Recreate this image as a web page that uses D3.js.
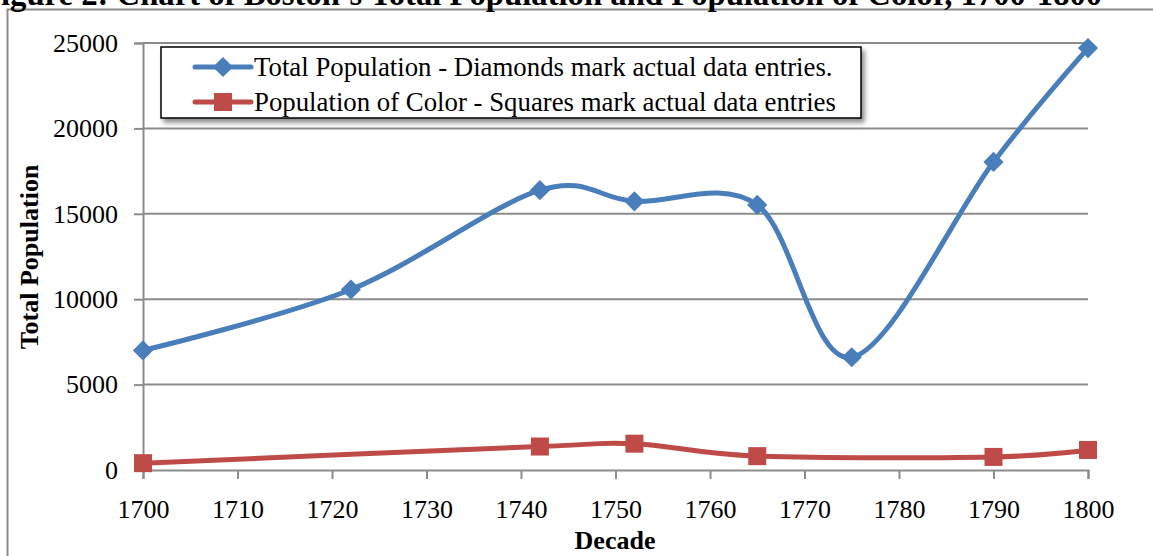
<!DOCTYPE html>
<html>
<head>
<meta charset="utf-8">
<script src="https://cdn.jsdelivr.net/npm/d3@7"></script>
<style>
  body { margin: 0; background: #fff; }
  svg { display: block; font-family: "Liberation Serif", "Times New Roman", serif; }
</style>
</head>
<body>
<svg id="chart" width="1153" height="556"></svg>
<script>
(function() {
"use strict";

var totalYears = [1700, 1722, 1742, 1752, 1765, 1775, 1790, 1800];
var totalPop   = [7000, 10567, 16382, 15731, 15520, 6600, 18038, 24700];
var colorYears = [1700, 1742, 1752, 1765, 1790, 1800];
var colorPop   = [400, 1374, 1541, 811, 766, 1174];
var xTicks = [1700, 1710, 1720, 1730, 1740, 1750, 1760, 1770, 1780, 1790, 1800];
var yTicks = [0, 5000, 10000, 15000, 20000, 25000];
var seriesNames = [
  "Total Population - Diamonds mark actual data entries.",
  "Population of Color - Squares mark actual data entries"
];

var blue = "#4a7ebb", red = "#be4b48", grid = "#8c8c8c";
var serif = "'Liberation Serif', 'Times New Roman', serif";

var svg = d3.select("#chart");

var x = d3.scaleLinear().domain([1700, 1800]).range([143, 1088]);
var y = d3.scaleLinear().domain([0, 25000]).range([470, 43]);

// outer frame (only top & left visible)
svg.append("path")
  .attr("d", "M7.5,556 V9.5 H1153")
  .attr("fill", "none")
  .attr("stroke", grid)
  .attr("stroke-width", 2);

// figure title, clipped by top of image
svg.append("text")
  .attr("x", -19).attr("y", 5)
  .attr("font-size", 32.7).attr("font-weight", "bold")
  .text("Figure 2: Chart of Boston\u2019s Total Population and Population of Color, 1700-1800");

// gridlines
svg.append("g").selectAll("line")
  .data(yTicks.filter(function(d) { return d > 0; }))
  .enter().append("line")
  .attr("x1", x(1700)).attr("x2", x(1800))
  .attr("y1", function(d) { return y(d); })
  .attr("y2", function(d) { return y(d); })
  .attr("stroke", grid).attr("stroke-width", 2);

// y axis
var yAxis = svg.append("g")
  .attr("transform", "translate(" + x(1700) + ",0)")
  .call(d3.axisLeft(y).tickValues(yTicks).tickSize(9).tickPadding(16).tickFormat(d3.format("d")));

// x axis
var xAxis = svg.append("g")
  .attr("transform", "translate(0," + y(0) + ")")
  .call(d3.axisBottom(x).tickValues(xTicks).tickSize(9).tickPadding(21).tickFormat(d3.format("d")));

[yAxis, xAxis].forEach(function(ax) {
  ax.attr("font-family", serif).attr("font-size", 26);
  ax.select(".domain").attr("stroke", grid).attr("stroke-width", 2);
  ax.selectAll(".tick line").attr("stroke", grid).attr("stroke-width", 2);
  ax.selectAll(".tick text").attr("fill", "#000");
});

// axis titles
svg.append("text")
  .attr("transform", "translate(38,257) rotate(-90)")
  .attr("text-anchor", "middle")
  .attr("font-size", 26).attr("font-weight", "bold")
  .text("Total Population");

svg.append("text")
  .attr("x", 615).attr("y", 549)
  .attr("text-anchor", "middle")
  .attr("font-size", 26).attr("font-weight", "bold")
  .text("Decade");

// lines
var line = d3.line()
  .x(function(d) { return x(d[0]); })
  .y(function(d) { return y(d[1]); })
  .curve(d3.curveCardinal.tension(0));

var totalData = d3.zip(totalYears, totalPop);
var colorData = d3.zip(colorYears, colorPop);

svg.append("path")
  .datum(colorData)
  .attr("d", line)
  .attr("fill", "none")
  .attr("stroke", red)
  .attr("stroke-width", 5);

svg.append("g").selectAll("rect")
  .data(colorData)
  .enter().append("rect")
  .attr("x", function(d) { return x(d[0]) - 9; })
  .attr("y", function(d) { return y(d[1]) - 9; })
  .attr("width", 18).attr("height", 18)
  .attr("fill", red);

svg.append("path")
  .datum(totalData)
  .attr("d", line)
  .attr("fill", "none")
  .attr("stroke", blue)
  .attr("stroke-width", 5);

var diamond = d3.symbol().type(d3.symbolDiamond2).size(260);
svg.append("g").selectAll("path")
  .data(totalData)
  .enter().append("path")
  .attr("transform", function(d) { return "translate(" + x(d[0]) + "," + y(d[1]) + ")"; })
  .attr("d", diamond)
  .attr("fill", blue);

// legend
var defs = svg.append("defs");
var f = defs.append("filter").attr("id", "shadow")
  .attr("x", "-5%").attr("y", "-20%").attr("width", "115%").attr("height", "160%");
f.append("feDropShadow")
  .attr("dx", 3).attr("dy", 4).attr("stdDeviation", 2.5)
  .attr("flood-color", "#000").attr("flood-opacity", 0.45);

var legend = svg.append("g").attr("transform", "translate(161,47)");
legend.append("rect")
  .attr("width", 700).attr("height", 71)
  .attr("fill", "#fff").attr("stroke", "#000").attr("stroke-width", 1.5)
  .attr("filter", "url(#shadow)");

var items = legend.selectAll("g.item")
  .data(seriesNames)
  .enter().append("g")
  .attr("class", "item")
  .attr("transform", function(d, i) { return "translate(0," + (20 + i * 35) + ")"; });

items.append("line")
  .attr("x1", 34).attr("x2", 90)
  .attr("stroke", function(d, i) { return i ? red : blue; })
  .attr("stroke-width", 5)
  .attr("stroke-linecap", "round");

items.append("path")
  .attr("transform", "translate(62,0)")
  .attr("d", function(d, i) {
    return i ? d3.symbol().type(d3.symbolSquare).size(324)() : diamond();
  })
  .attr("fill", function(d, i) { return i ? red : blue; });

items.append("text")
  .attr("x", 93).attr("y", 9)
  .attr("font-size", 26.8)
  .text(function(d) { return d; });

})();
</script>
</body>
</html>
